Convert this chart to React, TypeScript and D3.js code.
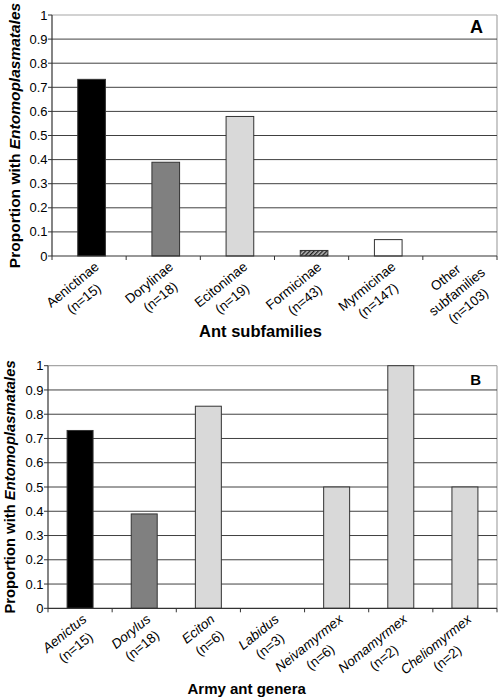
import React from "react";
import * as d3 from "d3";

// ---------- data ----------
const subfamilies = ["Aenictinae", "Dorylinae", "Ecitoninae", "Formicinae", "Myrmicinae", "Other subfamilies"];
const subfamilyN = [15, 18, 19, 43, 147, 103];
const subfamilyProp = [0.733, 0.389, 0.579, 0.023, 0.068, 0];
const subfamilyFill = ["#000000", "#808080", "#d9d9d9", "url(#hatch)", "#ffffff", "#ffffff"];

const genera = ["Aenictus", "Dorylus", "Eciton", "Labidus", "Neivamyrmex", "Nomamyrmex", "Cheliomyrmex"];
const genusN = [15, 18, 6, 3, 6, 2, 2];
const genusProp = [0.733, 0.389, 0.833, 0, 0.5, 1, 0.5];
const genusFill = ["#000000", "#808080", "#d9d9d9", "#d9d9d9", "#d9d9d9", "#d9d9d9", "#d9d9d9"];

const yTickValues = [0, 0.1, 0.2, 0.3, 0.4, 0.5, 0.6, 0.7, 0.8, 0.9, 1];
const yTickLabels = ["0", "0.1", "0.2", "0.3", "0.4", "0.5", "0.6", "0.7", "0.8", "0.9", "1"];

const FONT = "'Liberation Sans', Arial, Helvetica, sans-serif";

let ctx: CanvasRenderingContext2D | null = null;
function measure(text: string, size: number, italic: boolean) {
  if (!ctx) ctx = document.createElement("canvas").getContext("2d");
  if (!ctx) return text.length * size * 0.5;
  ctx.font = `${italic ? "italic " : ""}${size}px "Liberation Sans", Arial, sans-serif`;
  return ctx.measureText(text).width;
}

type Line = { text: string; italic: boolean };

function CatLabel({ x, y, lines, fs, lh, angle }: { x: number; y: number; lines: Line[]; fs: number; lh: number; angle: number }) {
  const maxW = Math.max(...lines.map((l) => measure(l.text, fs, l.italic)));
  const extra = lines.length - 2;
  const ox = x + extra * 4;
  const oy = y - extra * 8.4;
  return (
    <g transform={`translate(${ox},${oy}) rotate(${angle})`}>
      {lines.map((l, i) => (
        <text
          key={i}
          x={-maxW / 2}
          y={fs * 0.8 + i * lh}
          textAnchor="middle"
          fontSize={fs}
          fontStyle={l.italic ? "italic" : "normal"}
          fontFamily={FONT}
          fill="#000"
        >
          {l.text}
        </text>
      ))}
    </g>
  );
}

type PanelProps = {
  values: number[];
  fills: string[];
  labels: Line[][];
  left: number;
  right: number;
  top: number;
  bottom: number;
  barLeft: number;
  barRight: number;
  padInner: number;
  letter: string;
  letterX: number;
  letterY: number;
  letterSize: number;
  xTitle: string;
  xTitleX: number;
  xTitleY: number;
  xTitleSize: number;
  yTitleX: number;
  yTitleSize: number;
  tickLabelX: number;
  labelDx: number;
  labelDy: number;
};

function Panel(p: PanelProps) {
  const n = p.values.length;
  const idx = d3.range(n).map(String);
  const y = d3.scaleLinear().domain([0, 1]).range([p.bottom, p.top]);
  const xBar = d3
    .scaleBand<string>()
    .domain(idx)
    .range([p.barLeft, p.barRight])
    .paddingInner(p.padInner)
    .paddingOuter(p.padInner / 2);
  const xAxis = d3.scaleBand<string>().domain(idx).range([p.left, p.right]);
  const bounds = d3.range(n + 1).map((i) => p.left + i * xAxis.step());
  const yMid = (p.top + p.bottom) / 2;

  return (
    <g>
      {/* plot border */}
      <line x1={p.left} x2={p.right} y1={p.top} y2={p.top} stroke="#a6a6a6" strokeWidth={1.2} />
      <line x1={p.right} x2={p.right} y1={p.top} y2={p.bottom} stroke="#a6a6a6" strokeWidth={1.2} />
      {/* gridlines */}
      {yTickValues
        .filter((v) => v > 0 && v < 1)
        .map((v) => (
          <line key={v} x1={p.left} x2={p.right} y1={y(v)} y2={y(v)} stroke="#404040" strokeWidth={1} />
        ))}
      {/* bars */}
      {p.values.map((v, i) =>
        v > 0 ? (
          <rect
            key={i}
            x={xBar(String(i))}
            y={y(v)}
            width={xBar.bandwidth()}
            height={y(0) - y(v)}
            fill={p.fills[i]}
            stroke="#333"
            strokeWidth={1}
          />
        ) : null
      )}
      {/* y axis */}
      <line x1={p.left} x2={p.left} y1={p.top} y2={p.bottom} stroke="#333" strokeWidth={1.2} />
      {yTickValues.map((v, i) => (
        <g key={v}>
          <line x1={p.left - 4} x2={p.left} y1={y(v)} y2={y(v)} stroke="#333" strokeWidth={1} />
          <text
            x={p.tickLabelX}
            y={y(v)}
            dy="0.35em"
            textAnchor="end"
            fontSize={13}
            fontFamily={FONT}
            fill="#000"
          >
            {yTickLabels[i]}
          </text>
        </g>
      ))}
      {/* x axis */}
      <line x1={p.left} x2={p.right} y1={p.bottom} y2={p.bottom} stroke="#333" strokeWidth={1.2} />
      {bounds.map((bx, i) => (
        <line key={i} x1={bx} x2={bx} y1={p.bottom} y2={p.bottom + 4} stroke="#333" strokeWidth={1} />
      ))}
      {/* category labels */}
      {p.labels.map((lines, i) => (
        <CatLabel
          key={i}
          x={(xBar(String(i)) as number) + xBar.bandwidth() / 2 + p.labelDx}
          y={p.bottom + p.labelDy}
          lines={lines}
          fs={13.5}
          lh={18}
          angle={-39}
        />
      ))}
      {/* panel letter */}
      <text
        x={p.letterX}
        y={p.letterY}
        textAnchor="end"
        fontSize={p.letterSize}
        fontWeight="bold"
        fontFamily={FONT}
        fill="#000"
      >
        {p.letter}
      </text>
      {/* x title */}
      <text
        x={p.xTitleX}
        y={p.xTitleY}
        textAnchor="middle"
        fontSize={p.xTitleSize}
        fontWeight="bold"
        fontFamily={FONT}
        fill="#000"
      >
        {p.xTitle}
      </text>
      {/* y title */}
      <text
        transform={`translate(${p.yTitleX},${yMid}) rotate(-90)`}
        textAnchor="middle"
        fontSize={p.yTitleSize}
        fontWeight="bold"
        fontFamily={FONT}
        fill="#000"
      >
        Proportion with <tspan fontStyle="italic">Entomoplasmatales</tspan>
      </text>
    </g>
  );
}

export default function App() {
  const labelsA: Line[][] = subfamilies.map((s, i) => [
    ...s.split(" ").map((t) => ({ text: t, italic: false })),
    { text: `(n=${subfamilyN[i]})`, italic: false },
  ]);
  const labelsB: Line[][] = genera.map((g, i) => [
    { text: g, italic: true },
    { text: `(n=${genusN[i]})`, italic: false },
  ]);

  return (
    <svg
      width={500}
      height={699}
      style={{ position: "absolute", left: 0, top: 0, background: "#fff" }}
    >
      <defs>
        <pattern id="hatch" width={3} height={3} patternUnits="userSpaceOnUse" patternTransform="rotate(45)">
          <rect width={3} height={3} fill="#b8b8b8" />
          <line x1={0.5} y1={0} x2={0.5} y2={3} stroke="#222" strokeWidth={1.7} />
        </pattern>
      </defs>
      <Panel
        values={subfamilyProp}
        fills={subfamilyFill}
        labels={labelsA}
        left={52}
        right={497}
        top={15}
        bottom={256}
        barLeft={54.5}
        barRight={499.5}
        padInner={0.627}
        letter="A"
        letterX={483}
        letterY={33}
        letterSize={18}
        xTitle="Ant subfamilies"
        xTitleX={260.5}
        xTitleY={336.5}
        xTitleSize={16.5}
        yTitleX={19.5}
        yTitleSize={15.5}
        tickLabelX={47.5}
        labelDx={1.5}
        labelDy={4}
      />
      <Panel
        values={genusProp}
        fills={genusFill}
        labels={labelsB}
        left={48}
        right={497}
        top={365.7}
        bottom={608.3}
        barLeft={48}
        barRight={497}
        padInner={0.595}
        letter="B"
        letterX={481}
        letterY={385}
        letterSize={15}
        xTitle="Army ant genera"
        xTitleX={246.7}
        xTitleY={693.5}
        xTitleSize={15}
        yTitleX={15}
        yTitleSize={14.8}
        tickLabelX={43.5}
        labelDx={0.5}
        labelDy={4}
      />
    </svg>
  );
}
